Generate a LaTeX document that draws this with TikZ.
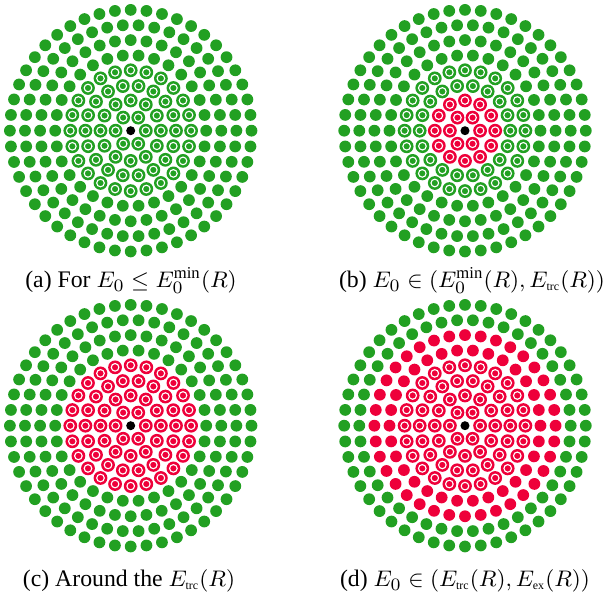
\documentclass[tikz,border=0pt]{standalone}
\usepackage{fontspec}
\setmainfont{Liberation Serif}
\usepackage{tikz}
\definecolor{dotgreen}{RGB}{34,160,34}
\definecolor{dotred}{RGB}{238,0,58}
\newcommand{\lbl}[1]{{\scriptscriptstyle\mathrm{#1}}}

\begin{document}
\begin{tikzpicture}[x=0.4pt,y=-0.4pt,
			plaindot/.style={fill=#1},
			ringmark/.style={draw=white,line width=0.45pt},
			caption/.style={anchor=base,inner sep=0pt,font=\fontsize{9.5}{11}\selectfont},
			]
			% 画布（像素坐标，y 向下）
			\useasboundingbox (0,0) rectangle (603,598);
			% 环间距
			\def\gap{15.1}
			
			% 四幅子图：圆心 / 红色环数
			\foreach \cx/\cy/\nred in {130.7/130.7/0, 465/130.7/2, 130.7/425.7/4, 465/425.7/6}{
				\foreach \k in {1,...,8}{
					\pgfmathtruncatemacro{\n}{6*\k}
					\pgfmathsetmacro{\da}{360/\n}
					\ifnum\k>\nred\relax \def\col{dotgreen}\else \def\col{dotred}\fi
					\foreach \j in {1,...,\n}{
						\path (\cx,\cy) ++(\da*\j:\gap*\k) coordinate (p);
						\ifnum\k>4\relax
							\fill[plaindot=\col] (p) circle[radius=2.36pt];
						\else
							\fill[plaindot=\col] (p) circle[radius=2.76pt];
							\draw[ringmark] (p) circle[radius=1.52pt];
						\fi
					}
				}
				% 中心点
				\fill[black] (\cx,\cy) circle[radius=1.8pt];
			}
			
			% 子图标题
			\node[caption] (capa) at (131,288) {(a) For $E_0\le E_0^{\mathrm{min}}(R)$};
			\node[caption] (capb) at (472,288) {(b) $E_0\in(E_0^{\mathrm{min}}(R),E_\lbl{trc}(R))$};
			\node[caption] (capc) at (129,587) {(c) Around the $E_\lbl{trc}(R)$};
			\node[caption] (capd) at (465,587) {(d) $E_0\in(E_\lbl{trc}(R),E_\lbl{ex}(R))$};
		\end{tikzpicture}
\end{document}
